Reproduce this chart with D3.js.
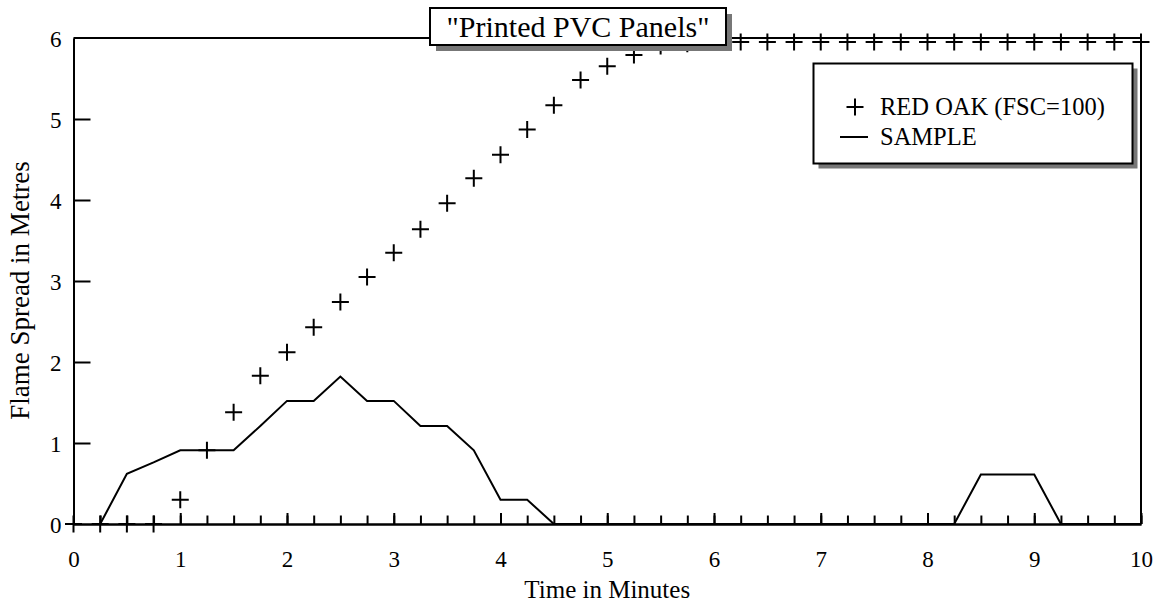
<!DOCTYPE html>
<html>
<head>
<meta charset="utf-8">
<script src="https://cdn.jsdelivr.net/npm/d3@7"></script>
<style>
  html, body { margin: 0; padding: 0; background: #fff; }
  svg { display: block; }
  svg text { font-family: "Liberation Serif", "Times New Roman", serif !important; fill: #000; }
</style>
</head>
<body>
<svg id="chart" width="1159" height="607"></svg>
<script>
// ---- data ----
const titleText = '"Printed PVC Panels"';
const xLabel = "Time in Minutes";
const yLabel = "Flame Spread in Metres";
const seriesNames = ["RED OAK (FSC=100)", "SAMPLE"];

const redOakTime = [0, 0.25, 0.5, 0.75, 1, 1.25, 1.5, 1.75, 2, 2.25, 2.5, 2.75, 3, 3.25, 3.5, 3.75, 4, 4.25, 4.5, 4.75, 5, 5.25, 5.5, 5.75, 6, 6.25, 6.5, 6.75, 7, 7.25, 7.5, 7.75, 8, 8.25, 8.5, 8.75, 9, 9.25, 9.5, 9.75, 10];
const redOakSpread = [0, 0, 0, 0, 0.30, 0.91, 1.38, 1.83, 2.12, 2.43, 2.74, 3.05, 3.35, 3.64, 3.96, 4.27, 4.56, 4.87, 5.17, 5.48, 5.65, 5.79, 5.90, 5.93, 5.95, 5.95, 5.95, 5.95, 5.95, 5.95, 5.95, 5.95, 5.95, 5.95, 5.95, 5.95, 5.95, 5.95, 5.95, 5.95, 5.95];

const sampleTime = [0.25, 0.5, 0.75, 1, 1.25, 1.5, 1.75, 2, 2.25, 2.5, 2.75, 3, 3.25, 3.5, 3.75, 4, 4.25, 4.5, 4.75, 5, 5.25, 5.5, 5.75, 6, 6.25, 6.5, 6.75, 7, 7.25, 7.5, 7.75, 8, 8.25, 8.5, 8.75, 9, 9.25, 9.5, 9.75, 10];
const sampleSpread = [0, 0.62, 0.76, 0.91, 0.91, 0.91, 1.21, 1.52, 1.52, 1.82, 1.52, 1.52, 1.21, 1.21, 0.91, 0.30, 0.30, 0, 0, 0, 0, 0, 0, 0, 0, 0, 0, 0, 0, 0, 0, 0, 0, 0.61, 0.61, 0.61, 0, 0, 0, 0];

const xMajorTicks = [0, 1, 2, 3, 4, 5, 6, 7, 8, 9, 10];
const xMinorTicks = d3.range(0, 10.001, 0.25);
const yTicks = [0, 1, 2, 3, 4, 5, 6];

// ---- layout ----
const FONT = "Liberation Serif";
const svg = d3.select("#chart");
const L = 73.5, R = 1141, T = 38, B = 524;
const x = d3.scaleLinear().domain([0, 10]).range([L, R]);
const y = d3.scaleLinear().domain([0, 6]).range([B, T]);

// frame
const frame = svg.append("g").attr("stroke", "#000").attr("stroke-width", 2).attr("fill", "none");
frame.append("line").attr("x1", L).attr("x2", R).attr("y1", T).attr("y2", T);
frame.append("line").attr("x1", R).attr("x2", R).attr("y1", T).attr("y2", B);

// minor x ticks
const xMinor = svg.append("g").attr("transform", `translate(0,${B})`)
  .call(d3.axisBottom(x).tickValues(xMinorTicks).tickSizeInner(-8.5).tickSizeOuter(0).tickFormat(""));
// major x ticks
const xMajor = svg.append("g").attr("transform", `translate(0,${B})`)
  .call(d3.axisBottom(x).tickValues(xMajorTicks).tickSizeInner(-11).tickSizeOuter(0).tickPadding(24).tickFormat(d3.format("d")));
// y axis
const yAx = svg.append("g").attr("transform", `translate(${L},0)`)
  .call(d3.axisLeft(y).tickValues(yTicks).tickSizeInner(-17).tickSizeOuter(0).tickPadding(14).tickFormat(d3.format("d")));

[xMinor, xMajor, yAx].forEach(g => {
  g.attr("font-family", FONT);
  g.selectAll(".domain").attr("stroke", "#000").attr("stroke-width", 2);
  g.selectAll(".tick line").attr("stroke", "#000").attr("stroke-width", 2);
  g.selectAll("text").attr("font-size", 23).attr("font-family", FONT).attr("fill", "#000");
});
xMajor.selectAll(".tick text").attr("dy", "0.35em").attr("y", 35);
yAx.selectAll(".tick text").attr("x", -12).attr("dy", "0.35em");
yAx.selectAll(".tick line").filter(d => d === 0 || d === 6).remove();

// axis titles
svg.append("text").attr("x", (L + R) / 2).attr("y", 598).attr("text-anchor", "middle")
  .attr("font-family", FONT).attr("font-size", 25).text(xLabel);
svg.append("text").attr("transform", `translate(29,290.5) rotate(-90)`)
  .attr("text-anchor", "middle").attr("font-family", FONT).attr("font-size", 27).text(yLabel);

// sample line
const sampleData = sampleTime.map((t, i) => [t, sampleSpread[i]]);
svg.append("path").datum(sampleData)
  .attr("fill", "none").attr("stroke", "#000").attr("stroke-width", 2).attr("stroke-linejoin", "miter")
  .attr("d", d3.line().x(d => x(d[0])).y(d => y(d[1])));

// red oak plus markers
const oakData = redOakTime.map((t, i) => [t, redOakSpread[i]]);
const h = 8.5;
svg.append("g").selectAll("path").data(oakData).join("path")
  .attr("fill", "none").attr("stroke", "#000").attr("stroke-width", 2)
  .attr("d", d => `M${x(d[0]) - h},${y(d[1])}H${x(d[0]) + h}M${x(d[0])},${y(d[1]) - h}V${y(d[1]) + h}`);

// title box with shadow
const tb = { x: 430, y: 8, w: 296, h: 37 };
svg.append("rect").attr("x", tb.x + 6).attr("y", tb.y + 6).attr("width", tb.w).attr("height", tb.h).attr("fill", "#777");
svg.append("rect").attr("x", tb.x).attr("y", tb.y).attr("width", tb.w).attr("height", tb.h)
  .attr("fill", "#fff").attr("stroke", "#000").attr("stroke-width", 2);
svg.append("text").attr("x", tb.x + tb.w / 2).attr("y", tb.y + 29).attr("text-anchor", "middle")
  .attr("font-family", FONT).attr("font-size", 30).text(titleText);

// legend with shadow
const lg = { x: 813.5, y: 63.5, w: 319, h: 100 };
svg.append("rect").attr("x", lg.x + 5).attr("y", lg.y + 5).attr("width", lg.w).attr("height", lg.h).attr("fill", "#777");
svg.append("rect").attr("x", lg.x).attr("y", lg.y).attr("width", lg.w).attr("height", lg.h)
  .attr("fill", "#fff").attr("stroke", "#000").attr("stroke-width", 2);
const lpx = 855, lpy = 107;
svg.append("path").attr("fill", "none").attr("stroke", "#000").attr("stroke-width", 2)
  .attr("d", `M${lpx - h},${lpy}H${lpx + h}M${lpx},${lpy - h}V${lpy + h}`);
svg.append("text").attr("x", 880).attr("y", 115).attr("font-family", FONT).attr("font-size", 24.5).text(seriesNames[0]);
svg.append("line").attr("x1", 840).attr("x2", 868).attr("y1", 137).attr("y2", 137)
  .attr("stroke", "#000").attr("stroke-width", 2);
svg.append("text").attr("x", 880).attr("y", 145).attr("font-family", FONT).attr("font-size", 24.5).text(seriesNames[1]);
</script>
</body>
</html>
